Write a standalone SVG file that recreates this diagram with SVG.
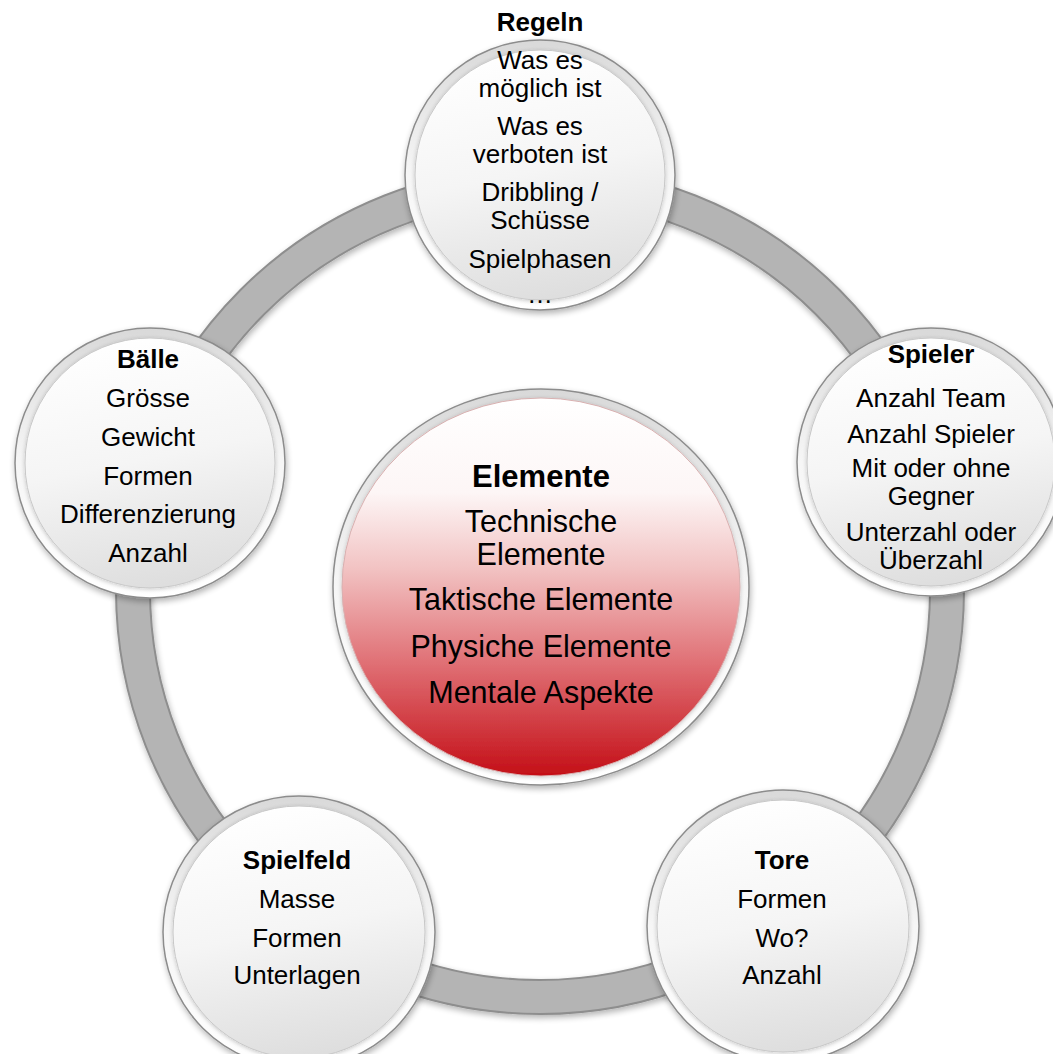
<svg xmlns="http://www.w3.org/2000/svg" width="1053" height="1054" viewBox="0 0 1053 1054">
<defs>
<linearGradient id="rim" x1="0" y1="0" x2="0" y2="1">
<stop offset="0" stop-color="#d9d9d9"/>
<stop offset="0.5" stop-color="#f6f6f6"/>
<stop offset="1" stop-color="#ffffff"/>
</linearGradient>
<linearGradient id="face" x1="0.3" y1="0" x2="0.5" y2="1">
<stop offset="0" stop-color="#ffffff"/>
<stop offset="0.5" stop-color="#f5f5f5"/>
<stop offset="1" stop-color="#dedede"/>
</linearGradient>
<linearGradient id="red" x1="0" y1="0" x2="0" y2="1">
<stop offset="0" stop-color="#ffffff"/>
<stop offset="0.25" stop-color="#fdf6f6"/>
<stop offset="0.45" stop-color="#f2c3c3"/>
<stop offset="0.7" stop-color="#e07075"/>
<stop offset="1" stop-color="#c40f17"/>
</linearGradient>
<filter id="sh" x="-20%" y="-20%" width="140%" height="140%">
<feGaussianBlur in="SourceAlpha" stdDeviation="3"/>
<feOffset dx="1" dy="3" result="b"/>
<feComponentTransfer><feFuncA type="linear" slope="0.3"/></feComponentTransfer>
<feMerge><feMergeNode/><feMergeNode in="SourceGraphic"/></feMerge>
</filter>
<filter id="inner" x="-10%" y="-10%" width="120%" height="120%">
<feGaussianBlur in="SourceAlpha" stdDeviation="2"/>
<feOffset dx="0" dy="1"/>
<feComponentTransfer><feFuncA type="linear" slope="0.22"/></feComponentTransfer>
<feMerge><feMergeNode/><feMergeNode in="SourceGraphic"/></feMerge>
</filter>
</defs>
<style>
.rimc{fill:url(#rim);stroke:#8c8c8c;stroke-width:1.5}
.facec{fill:url(#face);stroke:#c8c8c8;stroke-width:1}
.t{font-family:"Liberation Sans",Arial,sans-serif;font-size:26px;fill:#000;text-anchor:middle}
.b{font-weight:bold}
.c{font-family:"Liberation Sans",Arial,sans-serif;font-size:30.5px;fill:#000;text-anchor:middle}
</style>
<rect width="1053" height="1054" fill="#ffffff"/>
<g id="connectors">
<circle cx="540" cy="590" r="407" fill="none" stroke="#8e8e8e" stroke-width="36" filter="url(#sh)"/>
<circle cx="540" cy="590" r="407" fill="none" stroke="#b4b4b4" stroke-width="32"/>
</g>
<g id="center">
<g filter="url(#sh)">
<ellipse cx="541" cy="587" rx="208" ry="198" class="rimc"/>
</g>
<ellipse cx="541" cy="587" rx="199" ry="189" fill="url(#red)" stroke="#d8b0b0" stroke-width="1" filter="url(#inner)"/>
<text class="c b" x="541" y="487" style="font-size:31px">Elemente</text>
<text class="c" x="541" y="532">Technische</text>
<text class="c" x="541" y="565">Elemente</text>
<text class="c" x="541" y="610">Taktische Elemente</text>
<text class="c" x="541" y="657">Physiche Elemente</text>
<text class="c" x="541" y="703">Mentale Aspekte</text>
</g>
<g id="regeln">
<circle cx="540" cy="175" r="135" class="rimc" filter="url(#sh)"/>
<circle cx="540" cy="175" r="125" class="facec" filter="url(#inner)"/>
<text class="t b" x="540" y="31">Regeln</text>
<text class="t" x="540" y="69">Was es</text>
<text class="t" x="540" y="97">möglich ist</text>
<text class="t" x="540" y="135">Was es</text>
<text class="t" x="540" y="163">verboten ist</text>
<text class="t" x="540" y="201">Dribbling /</text>
<text class="t" x="540" y="229">Schüsse</text>
<text class="t" x="540" y="268">Spielphasen</text>
<text class="t" x="540" y="303">…</text>
</g>
<g id="spieler">
<circle cx="931" cy="462" r="134" class="rimc" filter="url(#sh)"/>
<circle cx="931" cy="462" r="124" class="facec" filter="url(#inner)"/>
<text class="t b" x="931" y="363">Spieler</text>
<text class="t" x="931" y="407">Anzahl Team</text>
<text class="t" x="931" y="443">Anzahl Spieler</text>
<text class="t" x="931" y="477">Mit oder ohne</text>
<text class="t" x="931" y="505">Gegner</text>
<text class="t" x="931" y="541">Unterzahl oder</text>
<text class="t" x="931" y="569">Überzahl</text>
</g>
<g id="baelle">
<circle cx="150" cy="463" r="135" class="rimc" filter="url(#sh)"/>
<circle cx="150" cy="463" r="125" class="facec" filter="url(#inner)"/>
<text class="t b" x="148" y="368">Bälle</text>
<text class="t" x="148" y="407">Grösse</text>
<text class="t" x="148" y="446">Gewicht</text>
<text class="t" x="148" y="485">Formen</text>
<text class="t" x="148" y="523">Differenzierung</text>
<text class="t" x="148" y="562">Anzahl</text>
</g>
<g id="spielfeld">
<circle cx="299" cy="932" r="136" class="rimc" filter="url(#sh)"/>
<circle cx="299" cy="932" r="126" class="facec" filter="url(#inner)"/>
<text class="t b" x="297" y="869">Spielfeld</text>
<text class="t" x="297" y="908">Masse</text>
<text class="t" x="297" y="947">Formen</text>
<text class="t" x="297" y="984">Unterlagen</text>
</g>
<g id="tore">
<circle cx="783" cy="926" r="136" class="rimc" filter="url(#sh)"/>
<circle cx="783" cy="926" r="126" class="facec" filter="url(#inner)"/>
<text class="t b" x="782" y="869">Tore</text>
<text class="t" x="782" y="908">Formen</text>
<text class="t" x="782" y="947">Wo?</text>
<text class="t" x="782" y="984">Anzahl</text>
</g>
</svg>
